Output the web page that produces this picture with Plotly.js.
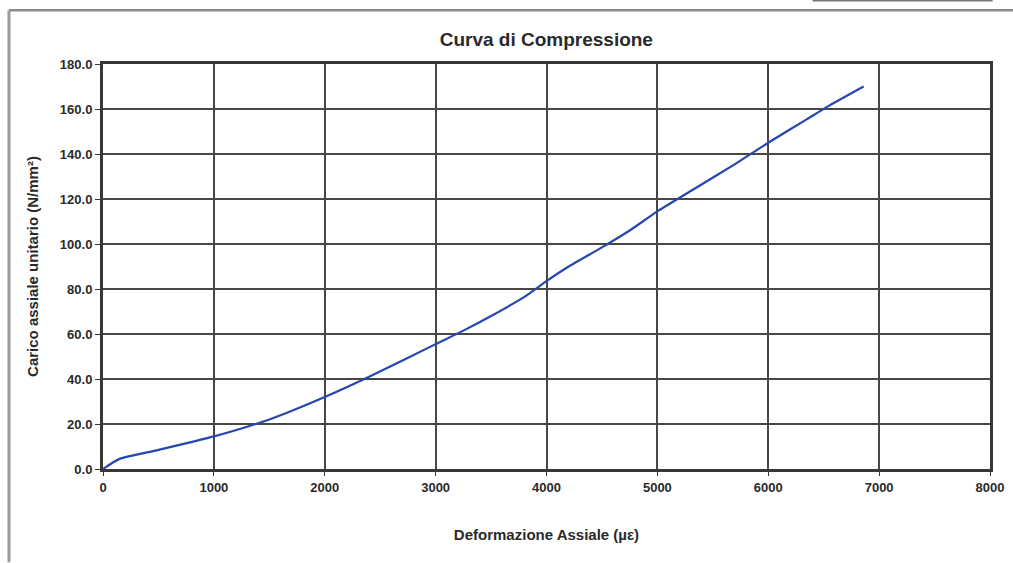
<!DOCTYPE html>
<html>
<head>
<meta charset="utf-8">
<script src="https://cdn.plot.ly/plotly-3.0.1.min.js"></script>
<style>
  html, body { margin: 0; padding: 0; background: #ffffff; }
  #chart { width: 1013px; height: 563px; }
</style>
</head>
<body>
<div id="chart"></div>
<script>
// Data
const strain = [0, 150, 500, 1000, 1300, 1500, 2000, 2400, 3000, 3250, 3500, 3800, 4000, 4200, 4500, 4750, 5000, 5350, 5700, 6000, 6350, 6550, 6860];
const stress = [0, 4.5, 8.5, 14.5, 18.8, 22.0, 32.0, 41.0, 55.5, 61.5, 68.0, 76.5, 83.5, 90.0, 98.5, 106.0, 114.5, 125.0, 135.5, 145.0, 155.5, 161.5, 170.0];

const xTicks = [0, 1000, 2000, 3000, 4000, 5000, 6000, 7000, 8000];
const yTicks = [0, 20, 40, 60, 80, 100, 120, 140, 160, 180];

const chartTitle = "Curva di Compressione";
const xTitle = "Deformazione Assiale (µε)";
const yTitle = "Carico assiale unitario (N/mm²)";

const trace = {
  x: strain,
  y: stress,
  type: "scatter",
  mode: "lines",
  line: { color: "#2547b0", width: 2.2, shape: "spline", smoothing: 0.6 },
  hoverinfo: "skip"
};

const txt = "#2a2a2a";

const layout = {
  width: 1013,
  height: 563,
  paper_bgcolor: "#ffffff",
  plot_bgcolor: "#ffffff",
  margin: { l: 103, r: 23, t: 64, b: 94 },
  showlegend: false,
  font: { family: "Liberation Sans, Arial, sans-serif", color: txt, size: 12 },
  title: {
    text: chartTitle,
    font: { family: "Liberation Sans, Arial, sans-serif", size: 19, weight: "bold", color: txt },
    x: 0.5393, xanchor: "center",
    y: 0.93, yanchor: "middle"
  },
  xaxis: {
    range: [0, 8000],
    tickvals: xTicks,
    ticktext: xTicks.map(v => String(v)),
    showgrid: true,
    gridcolor: "#4a4644",
    gridwidth: 2,
    zeroline: false,
    showline: true,
    linecolor: "#3a3634",
    linewidth: 3,
    mirror: true,
    ticks: "outside",
    ticklen: 4,
    tickcolor: "#3a3634",
    tickfont: { size: 13, weight: "bold", color: txt },
    title: { text: xTitle, font: { size: 15, weight: "bold", color: txt }, standoff: 36 },
    fixedrange: true
  },
  yaxis: {
    range: [0, 180],
    tickvals: yTicks,
    ticktext: yTicks.map(v => v.toFixed(1)),
    showgrid: true,
    gridcolor: "#4a4644",
    gridwidth: 2,
    zeroline: false,
    showline: true,
    linecolor: "#3a3634",
    linewidth: 3,
    mirror: true,
    ticks: "outside",
    ticklen: 5,
    tickcolor: "#3a3634",
    tickfont: { size: 13, weight: "bold", color: txt },
    title: { text: yTitle, font: { size: 15, weight: "bold", color: txt }, standoff: 18 },
    fixedrange: true
  },
  shapes: [
    // outer frame of the embedded chart (top and left edges)
    { type: "line", xref: "paper", yref: "paper", x0: -0.106, x1: 1.03, y0: 1.133, y1: 1.133,
      line: { color: "#8a8a8a", width: 2.5 } },
    { type: "line", xref: "paper", yref: "paper", x0: -0.106, x1: -0.106, y0: -0.23, y1: 1.133,
      line: { color: "#9a9a9a", width: 3 } },
    // piece of the box above on the top right
    { type: "line", xref: "paper", yref: "paper", x0: 0.80, x1: 1.003, y0: 1.157, y1: 1.157,
      line: { color: "#777777", width: 2 } }
  ]
};

Plotly.newPlot("chart", [trace], layout, { displayModeBar: false, staticPlot: true });
</script>
</body>
</html>
